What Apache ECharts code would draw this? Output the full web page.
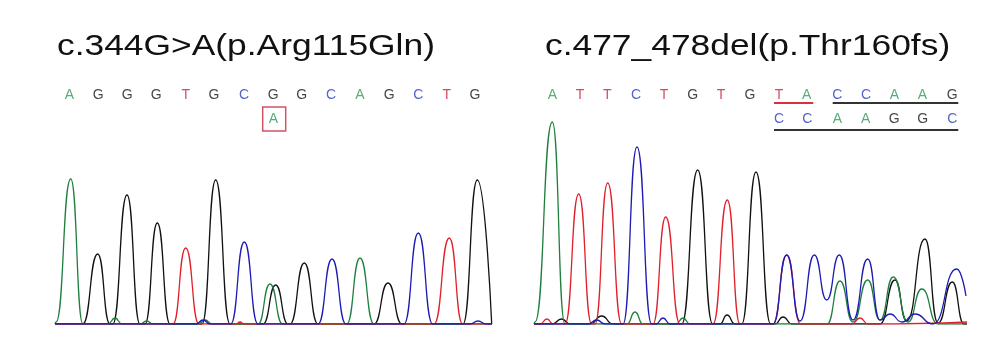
<!DOCTYPE html>
<html>
<head>
<meta charset="utf-8">
<script src="https://cdn.jsdelivr.net/npm/echarts@6/dist/echarts.min.js"></script>
<style>
  html, body { margin: 0; padding: 0; background: #fff; }
  #chart { width: 1006px; height: 351px; }
</style>
</head>
<body>
<div id="chart"></div>
<script>
// trace points: [scan position, signal]
const leftA = [[55,0],[56,2],[70.7,145],[83,0],[108,0],[115,6],[122,0],[140,0],[146.7,3],[153,0],[198,0],[205,4],[212,0],[258,0],[270,40],[282.7,0],[346.7,0],[360,66],[374,0],[492,0]];
const leftC = [[55,0],[196,0],[203,4],[210,0],[230.7,0],[244.3,82],[258,0],[318,0],[332,65],[346,0],[404,0],[418.3,91],[432.7,0],[470,0],[478,3],[486,0],[492,0]];
const leftG = [[55,0],[82.7,0],[97.7,70],[110,0],[112.7,0],[127,129],[140,0],[145,0],[157.3,101],[170,0],[202,0],[215.7,144],[230,0],[263,0],[275.7,39],[288,0],[290,0],[304.3,61],[318,0],[374,0],[388,41],[402,0],[463,0],[477.3,144],[491.7,0]];
const leftT = [[55,0],[173,0],[185.7,76],[199,0],[236,0],[240,2],[244,0],[434,0],[449.3,86],[462.7,0],[492,0]];

const rightA = [[534,0],[535,2],[552.3,202],[565,0],[627,0],[635,12],[643,0],[676,0],[683,6],[690,0],[827,0],[840,43],[853,2],[867.7,44],[880,4],[893.3,47],[908,2],[921.7,35],[938,0],[967,0]];
const rightC = [[534,0],[588,0],[596.7,4],[605,0],[623,0],[637,177],[651.7,0],[656,0],[663,6],[670,0],[773,0],[786.7,69],[800,3],[814.3,69],[826.7,24],[839.3,69],[853,4],[867.7,65],[880,4],[890,10],[902,2],[915,10],[933,0],[956.7,55],[966,28]];
const rightG = [[534,0],[552,0],[561.7,5],[570,0],[590,0],[601.7,8],[613,0],[681.7,0],[697.7,154],[712.7,0],[720,0],[727,9],[735,0],[741.7,0],[756,152],[770.7,0],[775,0],[783,7],[792,0],[880,0],[895,44],[906.7,3],[925,85],[938,1],[952.3,42],[964,0],[967,0]];
const rightT = [[534,0],[540,0],[547,5],[553,0],[565,0],[578.7,130],[591.7,0],[595,0],[607.7,141],[621.7,0],[653,0],[665.7,107],[680,0],[713,0],[727.3,124],[740,0],[773,0],[786.7,69],[800.7,0],[852,0],[860,6],[868,0],[967,2]];

// base calls and where they sit
const leftCalls = 'AGGGTGCGGCAGCTG'.split('');
const leftCallPos = [69.3,98.3,127.3,156.3,185.7,214,244,273.3,301.7,331,360,389.3,418.3,446.7,475];
const leftAlt = [{ base: 'A', pos: 273.3 }];

const rightCalls = 'ATTCTGTGTACCAAG'.split('');
const rightCallPos = [552.3,580,607.3,636,664,692.7,721,750,779,806.7,837.3,866,894.3,922.3,952.3];
const rightCalls2 = 'CCAAGGC'.split('');
const rightCallPos2 = [779,807.3,837.3,865.7,894.3,922.7,952.3];

const titles = ['c.344G>A(p.Arg115Gln)', 'c.477_478del(p.Thr160fs)'];

const traceColor = { A: '#1f7f3f', C: '#1c1cb4', G: '#111111', T: '#e0202a' };
const callColor = { A: '#2a9a55', C: '#2b3bbf', G: '#141414', T: '#c8203a' };

const callRow = 229, altRow = 205, underline1 = 221, underline2 = 194;

function trace(data, base, idx) {
  return {
    type: 'line', xAxisIndex: idx, yAxisIndex: idx, data: data,
    symbol: 'none', smooth: 0.55, smoothMonotone: 'x',
    lineStyle: { color: traceColor[base], width: 1.3 }, z: 2
  };
}

function calls(letters, pos, y, idx) {
  return {
    type: 'scatter', xAxisIndex: idx, yAxisIndex: idx, symbolSize: 1,
    itemStyle: { color: 'rgba(0,0,0,0)' }, z: 5,
    data: letters.map((b, i) => ({
      value: [pos[i], y], name: b,
      label: { color: callColor[b] }
    })),
    label: {
      show: true, position: 'inside', formatter: p => p.name,
      fontFamily: 'Liberation Sans', fontSize: 14
    }
  };
}

function rule(x0, x1, y, color) {
  return {
    type: 'line', xAxisIndex: 1, yAxisIndex: 1, symbol: 'none',
    data: [[x0, y], [x1, y]], lineStyle: { color: color, width: 2 }, z: 4
  };
}

const chart = echarts.init(document.getElementById('chart'));
chart.setOption({
  animation: false,
  backgroundColor: '#fff',
  grid: [
    { left: 55, top: 84, width: 437, height: 240 },
    { left: 534, top: 84, width: 433, height: 240 }
  ],
  xAxis: [
    { type: 'value', gridIndex: 0, min: 55, max: 492, show: false },
    { type: 'value', gridIndex: 1, min: 534, max: 967, show: false }
  ],
  yAxis: [
    { type: 'value', gridIndex: 0, min: 0, max: 240, show: false },
    { type: 'value', gridIndex: 1, min: 0, max: 240, show: false }
  ],
  graphic: [
    { type: 'text', x: 57, y: 47, scaleX: 1.22,
      style: { text: titles[0], fontSize: 29, fontFamily: 'Liberation Sans', fill: '#111', verticalAlign: 'middle' } },
    { type: 'text', x: 545, y: 47, scaleX: 1.22,
      style: { text: titles[1], fontSize: 29, fontFamily: 'Liberation Sans', fill: '#111', verticalAlign: 'middle' } }
  ],
  series: [
    trace(leftG, 'G', 0), trace(leftA, 'A', 0), trace(leftT, 'T', 0), trace(leftC, 'C', 0),
    trace(rightG, 'G', 1), trace(rightA, 'A', 1), trace(rightT, 'T', 1), trace(rightC, 'C', 1),
    calls(leftCalls, leftCallPos, callRow, 0),
    calls(leftAlt.map(d => d.base), leftAlt.map(d => d.pos), altRow, 0),
    {
      type: 'scatter', xAxisIndex: 0, yAxisIndex: 0, symbol: 'rect', symbolSize: [23, 24],
      data: [[274.2, altRow]], z: 4,
      itemStyle: { color: 'rgba(0,0,0,0)', borderColor: '#c4283c', borderWidth: 1.5 }
    },
    calls(rightCalls, rightCallPos, callRow, 1),
    calls(rightCalls2, rightCallPos2, altRow, 1),
    rule(774, 813.3, underline1, '#d8303c'),
    rule(832.7, 958.3, underline1, '#333333'),
    rule(774, 958.3, underline2, '#333333')
  ]
});
</script>
</body>
</html>
